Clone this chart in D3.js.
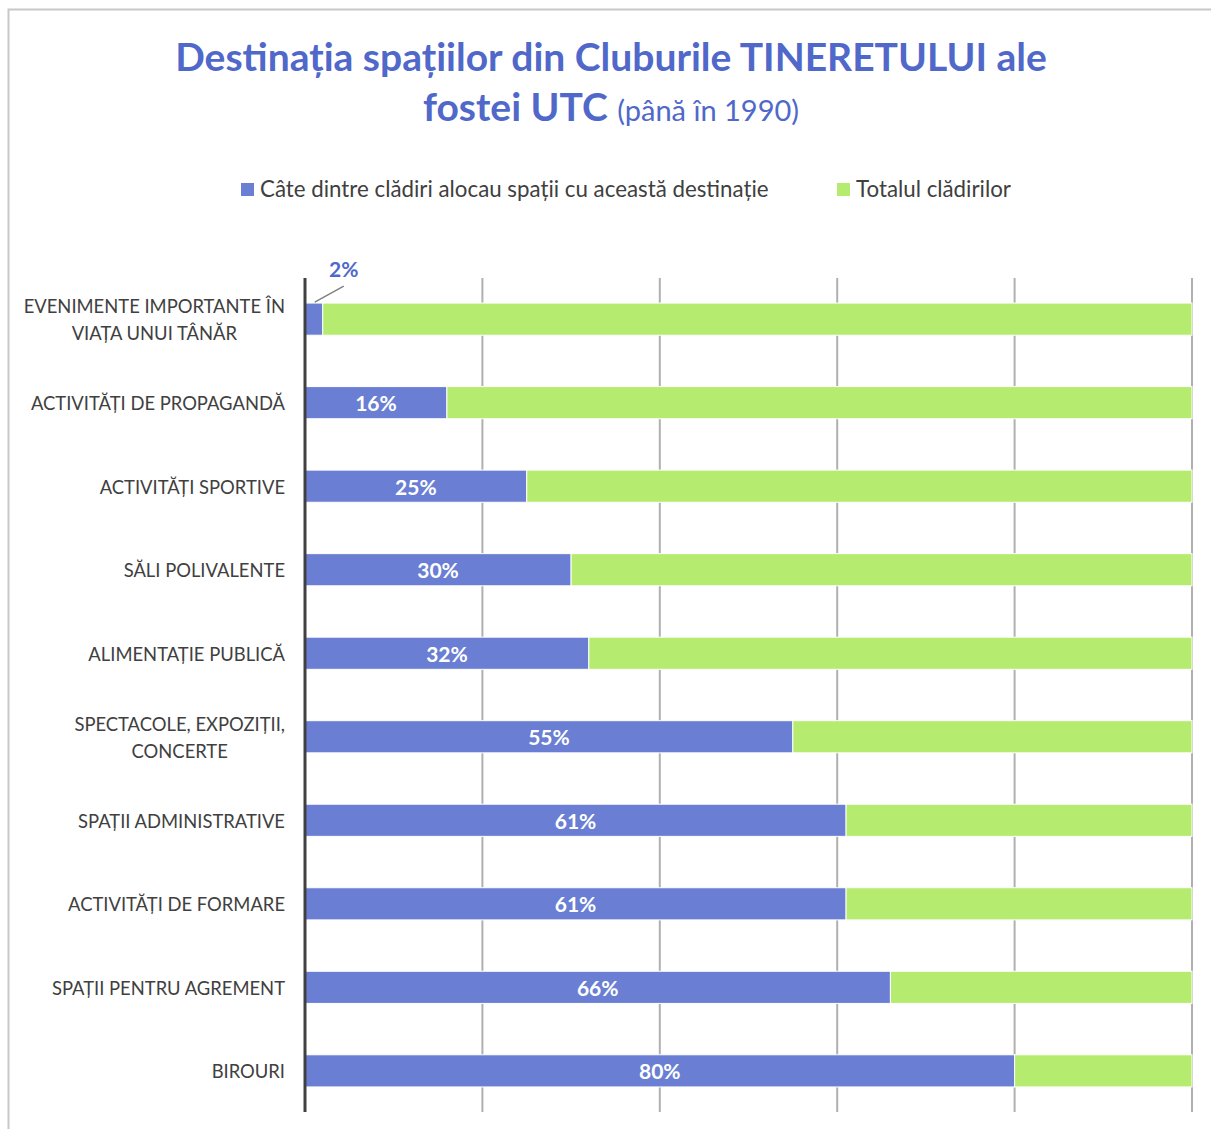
<!DOCTYPE html>
<html lang="ro">
<head>
<meta charset="UTF-8">
<title>Destinația spațiilor</title>
<style>
  body { margin: 0; background: #fff; font-family: Lato, "Open Sans", sans-serif; }
  svg text { font-family: Lato, "Open Sans", sans-serif; }
  .grid line { stroke: #b0b0b0; stroke-width: 2px; }
  .cat { fill: #404040; font-size: 18.4px; }
  .lbl { fill: #fff; font-size: 21px; font-weight: 700; }
</style>
</head>
<body>
<script src="https://cdnjs.cloudflare.com/ajax/libs/d3/7.8.5/d3.min.js"></script>
<script>
// categories, top to bottom
var categories = [
  ["EVENIMENTE IMPORTANTE ÎN", "VIAȚA UNUI TÂNĂR"],
  ["ACTIVITĂȚI DE PROPAGANDĂ"],
  ["ACTIVITĂȚI SPORTIVE"],
  ["SĂLI POLIVALENTE"],
  ["ALIMENTAȚIE PUBLICĂ"],
  ["SPECTACOLE, EXPOZIȚII,", "CONCERTE"],
  ["SPAȚII ADMINISTRATIVE"],
  ["ACTIVITĂȚI DE FORMARE"],
  ["SPAȚII PENTRU AGREMENT"],
  ["BIROURI"]
];
var share = [2, 16, 25, 30, 32, 55, 61, 61, 66, 80];
var total = [100, 100, 100, 100, 100, 100, 100, 100, 100, 100];
var seriesNames = ["Câte dintre clădiri alocau spații cu această destinație", "Totalul clădirilor"];
var xTicks = [0, 20, 40, 60, 80, 100];

var W = 1211, H = 1129;
var blue = "#6a7fd3", green = "#b5ec6f", titleColor = "#4f68c9";

var svg = d3.select("body").append("svg").attr("width", W).attr("height", H);

// chart frame
svg.append("path")
  .attr("d", "M8.5," + H + "V9.5H" + W)
  .attr("fill", "none").attr("stroke", "#c8c8c8").attr("stroke-width", 2);

// title
svg.append("text").attr("x", 611).attr("y", 71).attr("text-anchor", "middle")
  .attr("fill", titleColor).style("font-size", "39px").style("font-weight", 700)
  .text("Destinația spațiilor din Cluburile TINERETULUI ale");
var t2 = svg.append("text").attr("x", 611).attr("y", 121).attr("text-anchor", "middle")
  .attr("fill", titleColor);
t2.append("tspan").style("font-size", "39px").style("font-weight", 700).text("fostei UTC ");
t2.append("tspan").style("font-size", "29px").style("font-weight", 400).text("(până în 1990)");

// legend
var legX = [241, 837];
var leg = svg.append("g").selectAll("g").data(seriesNames).join("g")
  .attr("transform", function (d, i) { return "translate(" + legX[i] + ",183)"; });
leg.append("rect").attr("width", 13).attr("height", 13)
  .attr("fill", function (d, i) { return i ? green : blue; });
leg.append("text").attr("x", 19).attr("y", 14).attr("fill", "#404040")
  .style("font-size", "22.3px").text(function (d) { return d; });

// scales
var plotLeft = 305, plotRight = 1192, plotTop = 278, plotBottom = 1112;
var x = d3.scaleLinear().domain([0, 100]).range([plotLeft, plotRight]);
var y = d3.scaleBand().domain(d3.range(categories.length))
  .range([plotTop, plotBottom]).paddingInner(0.615).paddingOuter(0.3);

// gridlines
svg.append("g").attr("class", "grid")
  .selectAll("line").data(xTicks.slice(1)).join("line")
  .attr("x1", function (d) { return x(d); }).attr("x2", function (d) { return x(d); })
  .attr("y1", plotTop).attr("y2", plotBottom);

// stacked bars
var rows = svg.append("g").selectAll("g").data(categories).join("g");
rows.append("rect")
  .attr("x", x(0)).attr("y", function (d, i) { return y(i); })
  .attr("width", function (d, i) { return x(share[i]) - x(0); })
  .attr("height", y.bandwidth())
  .attr("fill", blue).attr("stroke", "#fff").attr("stroke-width", 1);
rows.append("rect")
  .attr("x", function (d, i) { return x(share[i]); }).attr("y", function (d, i) { return y(i); })
  .attr("width", function (d, i) { return x(total[i]) - x(share[i]); })
  .attr("height", y.bandwidth())
  .attr("fill", green).attr("stroke", "#fff").attr("stroke-width", 1);

// data labels inside the blue segment
rows.each(function (d, i) {
  if (share[i] < 10) return;
  d3.select(this).append("text")
    .attr("class", "lbl").attr("text-anchor", "middle")
    .attr("x", x(share[i] / 2))
    .attr("y", y(i) + y.bandwidth() / 2 + 8.5)
    .text(share[i] + "%");
});

// small value label with leader line
share.forEach(function (v, i) {
  if (v >= 10) return;
  svg.append("line")
    .attr("x1", x(v) - 8).attr("y1", y(i) - 1)
    .attr("x2", x(v) + 21).attr("y2", y(i) - 17)
    .attr("stroke", "#7f7f7f").attr("stroke-width", 1.5);
  svg.append("text").attr("x", x(v) + 21).attr("y", y(i) - 26)
    .attr("text-anchor", "middle").attr("fill", titleColor)
    .style("font-size", "21px").style("font-weight", 700).text(v + "%");
});

// category labels (multi-line centred on widest line)
rows.each(function (d, i) {
  var txt = d3.select(this).append("text").attr("class", "cat").attr("text-anchor", "middle");
  var lh = 27, cy = y(i) + y.bandwidth() / 2;
  d.forEach(function (line, k) {
    txt.append("tspan").attr("y", cy + 7.5 + (k - (d.length - 1) / 2) * lh).text(line);
  });
  var widest = d3.max(txt.selectAll("tspan").nodes(), function (n) { return n.getComputedTextLength(); });
  txt.selectAll("tspan").attr("x", 285 - widest / 2);
});

// vertical category axis
svg.append("line").attr("x1", plotLeft).attr("x2", plotLeft).attr("y1", plotTop).attr("y2", plotBottom)
  .attr("stroke", "#404040").attr("stroke-width", 3);
</script>
</body>
</html>
